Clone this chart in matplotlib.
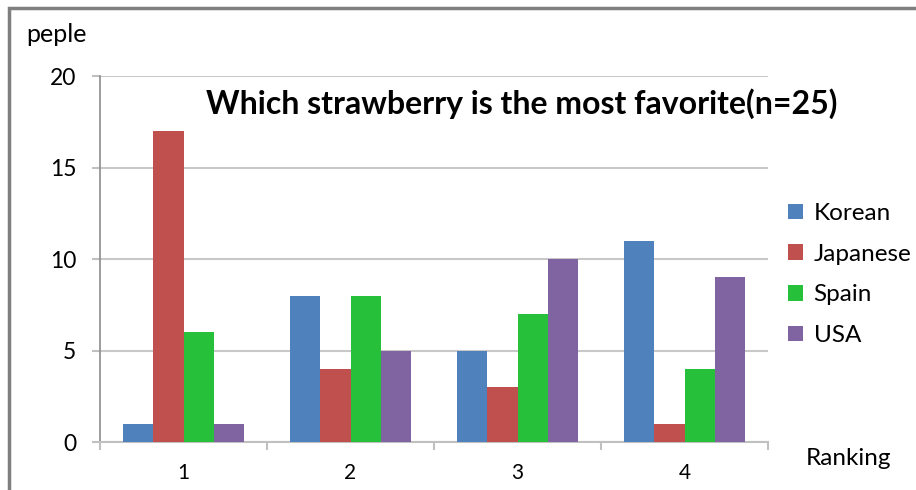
import matplotlib
matplotlib.use("Agg")
import matplotlib.pyplot as plt
import numpy as np
from matplotlib.patches import Rectangle

categories = ["1", "2", "3", "4"]
series_names = ["Korean", "Japanese", "Spain", "USA"]
korean = [1, 8, 5, 11]
japanese = [17, 4, 3, 1]
spain = [6, 8, 7, 4]
usa = [1, 5, 10, 9]
colors = ["#4f81bd", "#c0504d", "#27c03a", "#8064a2"]
yticks = [0, 5, 10, 15, 20]

plt.rcParams['font.family'] = ['Lato', 'DejaVu Sans']

fig = plt.figure(figsize=(9.16, 4.9), dpi=100)
ax = fig.add_axes([100/916, 1-442/490, 668/916, (442-76)/490])

x = np.arange(1, len(categories) + 1)
w = 0.18
values = [korean, japanese, spain, usa]
for i, (name, vals, c) in enumerate(zip(series_names, values, colors)):
    ax.bar(x + (i - 1.5) * w, vals, width=w, color=c, label=name, zorder=3)

ax.set_xlim(0.5, 4.5)
ax.set_ylim(0, 20)
ax.set_yticks(yticks)
ax.set_yticklabels([str(v) for v in yticks], fontsize=16.5)
ax.yaxis.grid(True, color="#c8c8c8", linewidth=1.5, zorder=0)
ax.set_axisbelow(True)

ax.set_xticks(x)
ax.set_xticklabels(categories, fontsize=15)
ax.set_xticks(np.arange(0.5, 5.0, 1.0), minor=True)
ax.tick_params(axis='x', which='major', length=0, pad=15)
ax.tick_params(axis='x', which='minor', length=6, color="#c0c0c0", width=1.5)
ax.tick_params(axis='y', length=6, color="#c0c0c0", width=1.5, pad=11)

for s in ["top", "right"]:
    ax.spines[s].set_visible(False)
ax.spines["left"].set_color("#8c8c8c")
ax.spines["left"].set_linewidth(1.2)
ax.spines["bottom"].set_color("#c0c0c0")
ax.spines["bottom"].set_linewidth(1.5)

fig.text(522/916, 1-104/490, "Which strawberry is the most favorite(n=25)",
         fontsize=23, fontweight="bold", ha="center", va="center")
fig.text(56/916, 1-34/490, "peple", fontsize=18, ha="center", va="center")
fig.text(848/916, 1-458/490, "Ranking", fontsize=17.5, ha="center", va="center")

leg = ax.legend(loc="upper left", bbox_to_anchor=(788/916, 1-203/490),
                bbox_transform=fig.transFigure, frameon=False, fontsize=17.5,
                handlelength=0.6, handleheight=0.6, handletextpad=0.45,
                labelspacing=0.81, borderaxespad=0, borderpad=0)

fig.patches.append(Rectangle((9/916, -0.1), 1.2, 1.1 - 8/490,
                             transform=fig.transFigure, fill=False,
                             edgecolor="#7f7f7f", linewidth=2.5))

fig.savefig("out.png", dpi=100)
